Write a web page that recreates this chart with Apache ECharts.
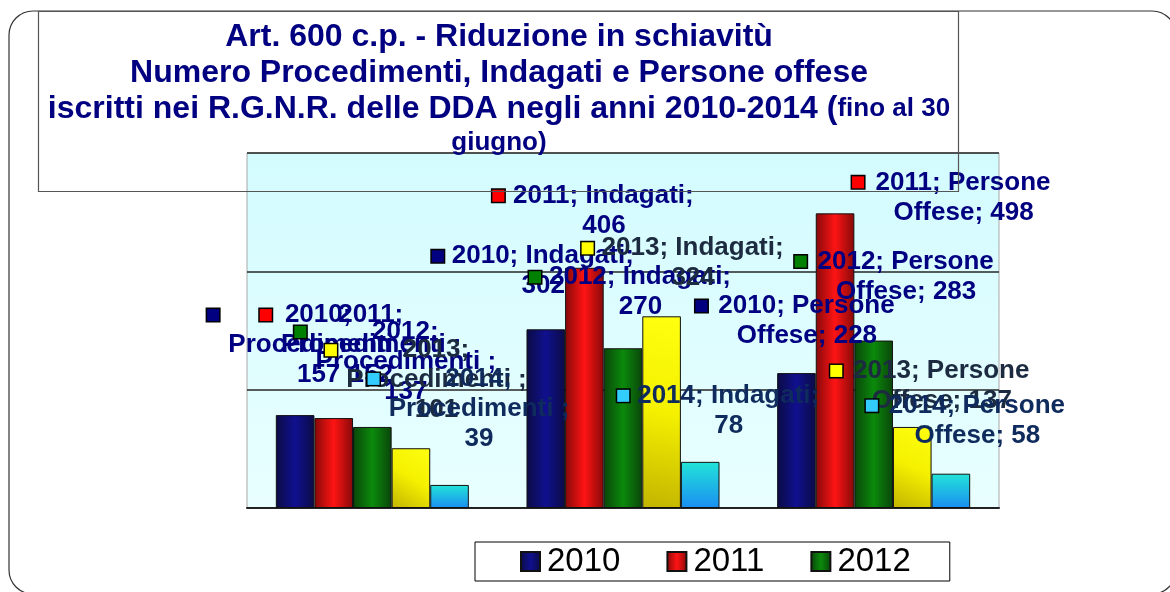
<!DOCTYPE html>
<html>
<head>
<meta charset="utf-8">
<script src="https://cdn.jsdelivr.net/npm/echarts@6/dist/echarts.min.js"></script>
<style>
  html, body { margin: 0; padding: 0; background: #fff; }
  #chart { width: 1170px; height: 592px; }
</style>
</head>
<body>
<div id="chart"></div>
<script>
var font = '"Liberation Sans", Arial, sans-serif'

var categories = ['Procedimenti ', 'Indagati', 'Persone Offese']
var years = ['2010', '2011', '2012', '2013', '2014']
var v2010 = [157, 302, 228]
var v2011 = [152, 406, 498]
var v2012 = [137, 270, 283]
var v2013 = [101, 324, 137]
var v2014 = [39, 78, 58]
var values = [v2010, v2011, v2012, v2013, v2014]
var legendYears = ['2010', '2011', '2012']

// where each data label sits, relative to the top of its bar
var labelShift = [
  [[13, -115], [-13, -88], [0, -82]],
  [[27, -118], [9, -87], [118, -46]],
  [[23, -110], [7, -86], [22, -94]],
  [[15, -113], [21, -83], [19, -71]],
  [[19, -121], [18, -81], [16, -83]]
]

var keyColor = ['#000080', '#ff0000', '#008000', '#ffff00', '#33ccff']
var textColor = ['#000080', '#000080', '#000080', '#1c2b40', '#0f2a5c']

function grad(type, stops) {
  var c = type == 'h' ? [0, 0, 1, 0] : [0, 0, 0, 1]
  return new echarts.graphic.LinearGradient(c[0], c[1], c[2], c[3],
    stops.map(function (s, i) { return { offset: i / (stops.length - 1), color: s } }))
}
var barFill = [
  grad('h', ['#0b0b45', '#10108f', '#0b0b45']),
  grad('h', ['#850909', '#ff1414', '#850909']),
  grad('h', ['#0a450a', '#0b8a0b', '#0a450a']),
  new echarts.graphic.LinearGradient(0, 1, 1, 0, [
    { offset: 0, color: '#c2b400' }, { offset: 0.5, color: '#f4f000' }, { offset: 1, color: '#ffff10' }]),
  grad('v', ['#22e4d8', '#1b8ef2'])
]

// word wrap like the original office chart
var ctx = document.createElement('canvas').getContext('2d')
ctx.font = 'bold 26px ' + font
function wrap(str, maxW) {
  var words = str.split(' ')
  var lines = []
  var cur = ''
  words.forEach(function (w) {
    var t = cur ? cur + ' ' + w : w
    if (cur && ctx.measureText(t).width > maxW) {
      lines.push(cur)
      cur = w
    } else cur = t
  })
  if (cur) lines.push(cur)
  return lines
}

var series = years.map(function (y, s) {
  return {
    name: y,
    type: 'bar',
    barGap: '0%',
    barCategoryGap: '23%',
    itemStyle: { color: barFill[s], borderColor: '#111', borderWidth: 1 },
    label: {
      show: true,
      position: 'top',
      distance: 0,
      verticalAlign: 'top',
      formatter: function (p) {
        var lines = wrap(p.seriesName + '; ' + p.name + '; ' + p.value, 186)
        return lines.map(function (l, i) {
          return (i == 0 ? '{m|}{g|}' : '{s|}') + '{w|' + l + '}'
        }).join('\n')
      },
      rich: {
        m: { width: 12, height: 12, backgroundColor: keyColor[s], borderColor: '#000', borderWidth: 1.5 },
        g: { width: 8 },
        s: { width: 21 },
        w: { width: 182, align: 'center', fontSize: 26, fontWeight: 'bold', fontFamily: font,
          color: textColor[s], lineHeight: 30 }
      }
    },
    data: values[s].map(function (v, i) {
      return { value: v, label: { offset: labelShift[s][i] } }
    }),
    z: 2
  }
})

var chart = echarts.init(document.getElementById('chart'))
chart.setOption({
  animation: false,
  title: {
    left: 494,
    top: 14,
    textAlign: 'center',
    text: '{a|Art. 600 c.p. - Riduzione in schiavitù}\n{a|Numero Procedimenti, Indagati e Persone offese}\n' +
      '{a|iscritti nei R.G.N.R. delle DDA negli anni 2010-2014 (}{b|fino al 30}\n{b|giugno)}',
    textStyle: {
      rich: {
        a: { fontSize: 32, fontWeight: 'bold', color: '#000080', fontFamily: font, lineHeight: 36 },
        b: { fontSize: 26, fontWeight: 'bold', color: '#000080', fontFamily: font, lineHeight: 31 }
      }
    },
    z: 10
  },
  legend: {
    data: legendYears,
    left: 475,
    top: 542,
    itemWidth: 19,
    itemHeight: 19,
    itemGap: 46,
    padding: [3, 39, 3, 45],
    borderColor: '#000',
    borderWidth: 1,
    backgroundColor: '#fff',
    borderRadius: 0,
    icon: 'rect',
    textStyle: { fontSize: 33, color: '#000', fontFamily: font, padding: [0, 0, 0, 2] }
  },
  grid: {
    left: 247,
    right: 171,
    top: 153,
    bottom: 84,
    show: true,
    borderColor: '#a8a8a8',
    borderWidth: 1,
    backgroundColor: grad('v', ['#d3fbfe', '#e9ffff'])
  },
  xAxis: {
    type: 'category',
    data: categories,
    axisLabel: { show: false },
    axisTick: { show: false },
    axisLine: { lineStyle: { color: '#222', width: 2 } }
  },
  yAxis: {
    type: 'value',
    min: 0,
    max: 600,
    interval: 200,
    axisLabel: { show: false },
    axisTick: { show: false },
    axisLine: { show: false },
    splitLine: { lineStyle: { color: '#262626', width: 1.6 } }
  },
  graphic: [
    { type: 'rect', z: 100, silent: true,
      shape: { x: 9, y: 11, width: 1167, height: 583, r: 24 },
      style: { fill: 'none', stroke: '#333', lineWidth: 1.2 } },
    { type: 'rect', z: 100, silent: true,
      shape: { x: 38.5, y: 11.5, width: 920, height: 180 },
      style: { fill: 'none', stroke: '#555', lineWidth: 1.2 } }
  ],
  series: series
})
</script>
</body>
</html>
